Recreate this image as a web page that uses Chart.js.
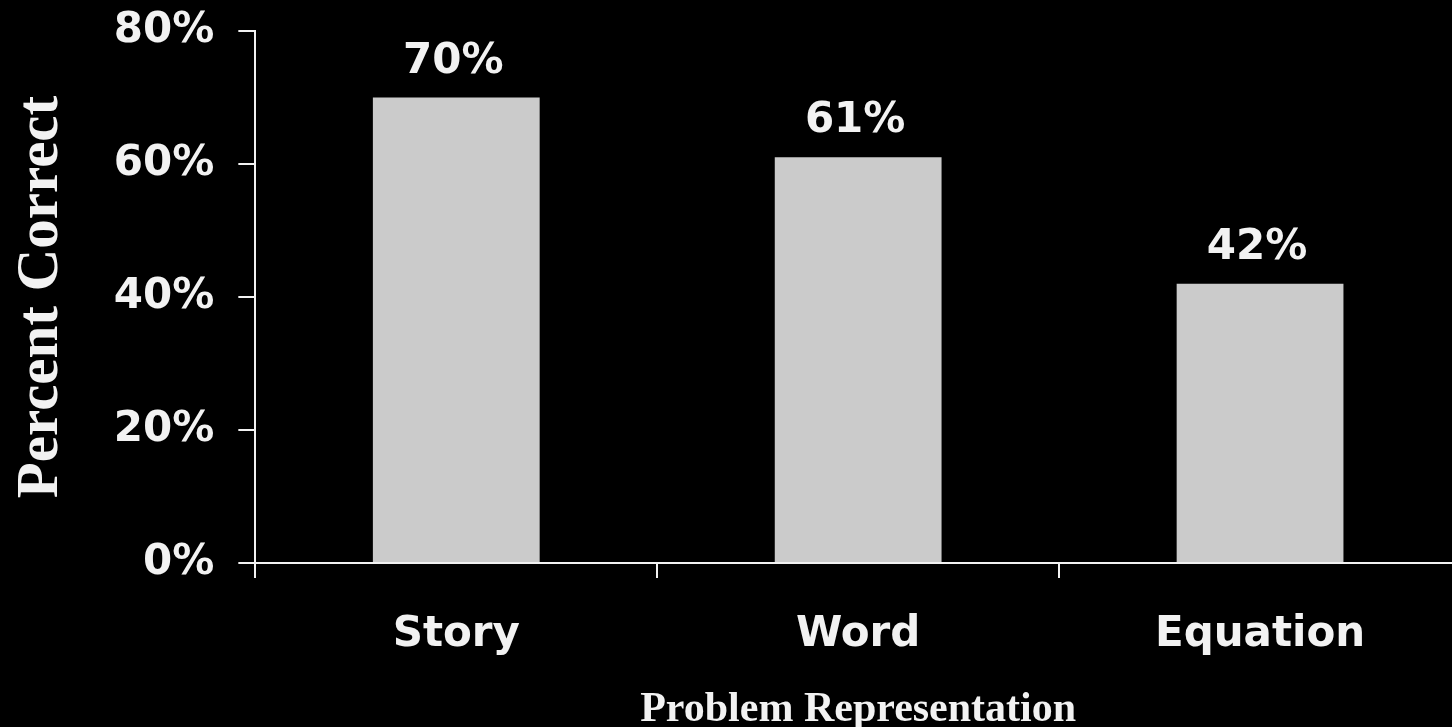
<!DOCTYPE html>
<html>
<head>
<meta charset="utf-8">
<script src="https://cdn.jsdelivr.net/npm/chart.js@4"></script>
<style>
  html, body { margin: 0; padding: 0; background: #000; overflow: hidden; }
  #wrap { width: 1461px; height: 727px; }
</style>
</head>
<body>
<div id="wrap"><canvas id="grafico"></canvas></div>
<script>
// datos
const categorias = ['Story', 'Word', 'Equation'];
const porcentajes = [70, 61, 42];
const marcasY = [0, 20, 40, 60, 80];

const blanco = '#f2f2f2';
const fuenteSans = 'DejaVu Sans';
const fuenteSerif = 'Liberation Serif';

// etiquetas encima de cada barra
const etiquetasBarras = {
  id: 'etiquetasBarras',
  afterDatasetsDraw(chart) {
    const ctx = chart.ctx;
    const meta = chart.getDatasetMeta(0);
    ctx.save();
    ctx.fillStyle = blanco;
    ctx.font = 'bold 42px "' + fuenteSans + '"';
    ctx.textAlign = 'center';
    ctx.textBaseline = 'alphabetic';
    meta.data.forEach((barra, i) => {
      ctx.fillText(porcentajes[i] + '%', barra.x - 3, barra.y - 25);
    });
    ctx.restore();
  }
};

new Chart(document.getElementById('grafico'), {
  type: 'bar',
  data: {
    labels: categorias,
    datasets: [{
      data: porcentajes,
      backgroundColor: '#cbcbcb',
      borderWidth: 0,
      categoryPercentage: 1,
      barPercentage: 0.415
    }]
  },
  options: {
    responsive: true,
    maintainAspectRatio: false,
    animation: false,
    layout: { padding: { top: 31, left: 6, right: 0, bottom: 0 } },
    plugins: {
      legend: { display: false },
      tooltip: { enabled: false }
    },
    scales: {
      x: {
        grid: {
          drawOnChartArea: false,
          color: blanco,
          lineWidth: 2,
          tickLength: 15
        },
        border: { color: blanco, width: 2 },
        ticks: {
          color: blanco,
          padding: 32,
          font: { family: fuenteSans, weight: 'bold', size: 42 }
        },
        title: {
          display: true,
          text: 'Problem Representation',
          color: blanco,
          padding: { top: 1, bottom: 0 },
          font: { family: fuenteSerif, weight: 'bold', size: 42, lineHeight: 0.8 }
        }
      },
      y: {
        min: 0,
        max: 80,
        afterBuildTicks(axis) {
          axis.ticks = marcasY.map(v => ({ value: v }));
        },
        grid: {
          drawOnChartArea: false,
          color: blanco,
          lineWidth: 2,
          tickLength: 17
        },
        border: { color: blanco, width: 2 },
        ticks: {
          color: blanco,
          padding: 24,
          callback: v => v + '%',
          // lineHeight corto para que el texto no empuje el área del gráfico
          font: { family: fuenteSans, weight: 'bold', size: 42, lineHeight: 0.3 }
        },
        title: {
          display: true,
          text: 'Percent Correct',
          color: blanco,
          padding: { top: 0, bottom: 13 },
          font: { family: fuenteSerif, weight: 'bold', size: 59 }
        }
      }
    }
  },
  plugins: [etiquetasBarras]
});
</script>
</body>
</html>
